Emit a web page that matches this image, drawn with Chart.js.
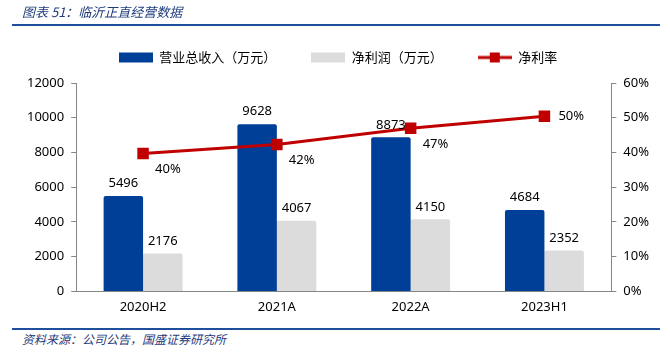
<!DOCTYPE html>
<html>
<head>
<meta charset="utf-8">
<script src="https://cdn.jsdelivr.net/npm/chart.js@4.4.0/dist/chart.umd.min.js"></script>
<style>
  body { margin: 0; width: 670px; height: 353px; background: #fff; font-family: "Noto Sans CJK SC", "Noto Sans", sans-serif; overflow: hidden; }
  .title { position: absolute; left: 22px; top: 2px; font-size: 13px; font-style: italic; color: #1f3c7c; z-index: 2; }
  .topline { position: absolute; left: 12px; top: 24px; width: 648px; height: 2px; background: #1f4e9c; z-index: 2; }
  .botline { position: absolute; left: 12px; top: 328px; width: 648px; height: 2px; background: #1f4e9c; }
  .source { position: absolute; left: 22px; top: 330px; font-size: 12px; font-style: italic; color: #1f3c7c; }
  #wrap { position: absolute; left: 0; top: 16px; width: 670px; height: 307px; }
</style>
</head>
<body>
<div id="wrap"><canvas id="chart"></canvas></div>
<div class="title">图表 51：临沂正直经营数据</div>
<div class="topline"></div>
<div class="botline"></div>
<div class="source">资料来源：公司公告，国盛证券研究所</div>
<script>
// data
const categories = ['2020H2', '2021A', '2022A', '2023H1'];
const revenue = [5496, 9628, 8873, 4684];      // 营业总收入（万元）
const netProfit = [2176, 4067, 4150, 2352];    // 净利润（万元）
const netMargin = [39.7, 42.3, 47.0, 50.4];    // 净利率 %
const marginLabels = ['40%', '42%', '47%', '50%'];

const BLUE = '#003f98';
const GRAY = '#dcdcdc';
const RED = '#c00000';
const AXIS = '#868686';

Chart.defaults.font.family = '"Noto Sans", "Noto Sans CJK SC", sans-serif';

function legendIcon(kind) {
  const c = document.createElement('canvas');
  c.width = 34; c.height = 12;
  const g = c.getContext('2d');
  if (kind === 'line') {
    g.strokeStyle = RED; g.lineWidth = 3;
    g.beginPath(); g.moveTo(0, 6); g.lineTo(34, 6); g.stroke();
    g.fillStyle = RED; g.fillRect(12, 1, 10, 10);
  } else {
    g.fillStyle = kind;
    g.fillRect(0, 1, 34, 10);
  }
  return c;
}

// draws value labels, like the data labels in the source chart
const valueLabels = {
  id: 'valueLabels',
  afterDatasetsDraw(chart) {
    const ctx = chart.ctx;
    ctx.save();
    ctx.font = '13px "Noto Sans", sans-serif';
    ctx.fillStyle = '#000';
    chart.data.datasets.forEach((ds, i) => {
      const meta = chart.getDatasetMeta(i);
      meta.data.forEach((el, j) => {
        if (ds.type === 'line') {
          const last = j === meta.data.length - 1;
          ctx.textAlign = 'left';
          ctx.textBaseline = 'middle';
          if (last) ctx.fillText(marginLabels[j], el.x + 14, el.y);
          else ctx.fillText(marginLabels[j], el.x + 12, el.y + 16);
        } else {
          ctx.textAlign = 'center';
          ctx.textBaseline = 'bottom';
          ctx.fillText(String(ds.data[j]), el.x, el.y - 6);
        }
      });
    });
    ctx.restore();
  }
};

// extra room under the legend
const legendMargin = {
  id: 'legendMargin',
  beforeInit(chart) {
    const fit = chart.legend.fit;
    chart.legend.fit = function () {
      fit.bind(chart.legend)();
      this.height += 9;
    };
  }
};

new Chart(document.getElementById('chart'), {
  data: {
    labels: categories,
    datasets: [
      {
        type: 'line',
        label: '净利率',
        data: netMargin,
        yAxisID: 'y1',
        borderColor: RED,
        backgroundColor: RED,
        borderWidth: 3,
        pointStyle: 'rect',
        pointRadius: 6,
        pointBackgroundColor: RED,
        pointBorderColor: RED,
        order: 0
      },
      {
        type: 'bar',
        label: '营业总收入（万元）',
        data: revenue,
        backgroundColor: BLUE,
        borderRadius: 2,
        barPercentage: 1.0,
        categoryPercentage: 0.59,
        yAxisID: 'y',
        order: 1
      },
      {
        type: 'bar',
        label: '净利润（万元）',
        data: netProfit,
        backgroundColor: GRAY,
        borderRadius: 2,
        barPercentage: 1.0,
        categoryPercentage: 0.59,
        yAxisID: 'y',
        order: 2
      }
    ]
  },
  options: {
    responsive: true,
    maintainAspectRatio: false,
    animation: false,
    layout: { padding: { left: 20, right: 14, top: 0, bottom: 0 } },
    plugins: {
      tooltip: { enabled: false },
      legend: {
        position: 'top',
        labels: {
          usePointStyle: true,
          pointStyleWidth: 34,
          boxHeight: 12,
          padding: 35,
          font: { size: 13, family: '"Noto Sans CJK SC", sans-serif' },
          color: '#000',
          sort: (a, b) => [1, 2, 0].indexOf(a.datasetIndex) - [1, 2, 0].indexOf(b.datasetIndex),
          generateLabels(chart) {
            const icons = [legendIcon('line'), legendIcon(BLUE), legendIcon(GRAY)];
            return chart.data.datasets.map((ds, i) => ({
              text: ds.label,
              datasetIndex: i,
              pointStyle: icons[i],
              fillStyle: ds.backgroundColor,
              strokeStyle: ds.backgroundColor,
              lineWidth: 0,
              fontColor: '#000'
            }));
          }
        }
      }
    },
    scales: {
      x: {
        grid: { display: false, drawTicks: false },
        border: { color: AXIS },
        ticks: { color: '#000', font: { size: 13 }, padding: 8 }
      },
      y: {
        min: 0, max: 12000,
        ticks: { stepSize: 2000, color: '#000', font: { size: 13 }, padding: 7, callback: v => String(v) },
        grid: { drawOnChartArea: false, drawTicks: true, tickLength: 5, color: AXIS },
        border: { display: true, color: AXIS }
      },
      y1: {
        position: 'right',
        min: 0, max: 60,
        ticks: { stepSize: 10, color: '#000', font: { size: 13 }, padding: 7, callback: v => v + '%' },
        grid: { drawOnChartArea: false, drawTicks: true, tickLength: 5, color: AXIS },
        border: { display: true, color: AXIS }
      }
    }
  },
  plugins: [valueLabels, legendMargin]
});
</script>
</body>
</html>
